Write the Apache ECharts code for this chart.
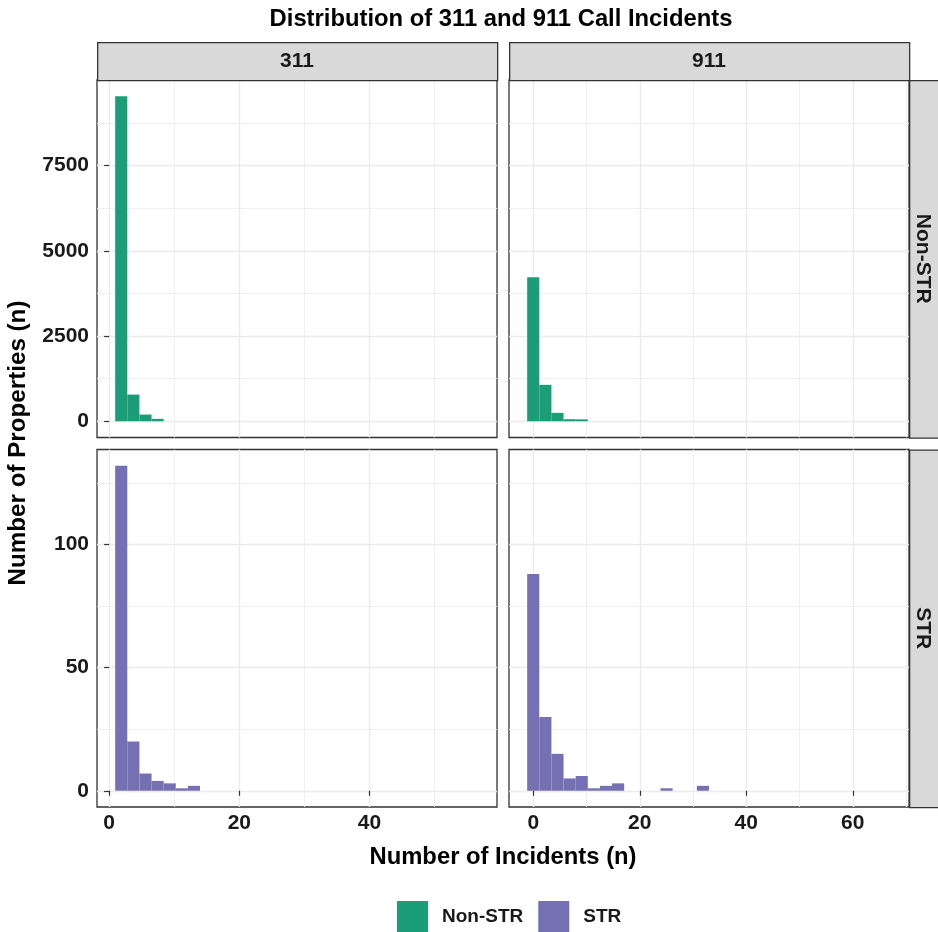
<!DOCTYPE html>
<html><head><meta charset="utf-8">
<script src="https://cdn.jsdelivr.net/npm/echarts@6/dist/echarts.min.js"></script>
<style>html,body{margin:0;padding:0;background:#fff}#c{width:938px;height:932px}</style>
</head><body><div id="c"></div>
<script>
const chartTitle = 'Distribution of 311 and 911 Call Incidents';
const xTitle = 'Number of Incidents (n)';
const yTitle = 'Number of Properties (n)';
const callTypes = ['311', '911'];
const groups = ['Non-STR', 'STR'];
const groupColors = ['#1B9E77', '#7570B3'];

// histogram bins (30 bins per column, first bin centred on the smallest value)
const binWidth311 = 1.862;
const firstBin311 = 1.86;
const lastBin311 = 55.86;
const binWidth911 = 2.276;
const firstBin911 = 0;
const lastBin911 = 66;

// counts per bin
const nonStr311 = [9531, 783, 196, 70];
const nonStr911 = [4224, 1068, 246, 60, 55];
const str311 = [132, 20, 7, 4, 3, 1, 2];
const str911 = [88, 30, 15, 5, 6, 1, 2, 3, 0, 0, 0, 1, 0, 0, 2];

// tick labels / grid lines
const xTicks311 = [0, 20, 40];
const xMinor311 = [10, 30, 50];
const xTicks911 = [0, 20, 40, 60];
const xMinor911 = [10, 30, 50, 70];
const yTicksNonStr = [0, 2500, 5000, 7500];
const yMinorNonStr = [1250, 3750, 6250, 8750];
const yTicksStr = [0, 50, 100];
const yMinorStr = [25, 75, 125];

const FONT = "'Liberation Sans', Arial, sans-serif";
const TXT = '#1a1a1a';
const LEFTS = [97, 509], PW = 400;
const TOPS = [80, 449.5], PH = 357.5;

const counts = [[nonStr311, nonStr911], [str311, str911]];
const binW = [binWidth311, binWidth911];
const binFirst = [firstBin311, firstBin911];
const binLast = [lastBin311, lastBin911];
const xTicks = [xTicks311, xTicks911], xMinor = [xMinor311, xMinor911];
const yTicks = [yTicksNonStr, yTicksStr], yMinor = [yMinorNonStr, yMinorStr];

function xExtent(col) {
  const lo = binFirst[col] - binW[col] / 2, hi = binLast[col] + binW[col] / 2;
  const pad = (hi - lo) * 0.05;
  return [lo - pad, hi + pad];
}
function yExtent(row) {
  const M = Math.max(...counts[row][0], ...counts[row][1]);
  return [-0.05 * M, 1.05 * M];
}
const plain = v => String(Math.round(v));

const grids = [], xAxes = [], yAxes = [], series = [], graphics = [];
for (let row = 0; row < 2; row++) {
  for (let col = 0; col < 2; col++) {
    const g = row * 2 + col;
    grids.push({left: LEFTS[col], top: TOPS[row], width: PW, height: PH, show: true,
      borderColor: '#333333', borderWidth: 1.3, backgroundColor: '#fff', containLabel: false});
    const [xmin, xmax] = xExtent(col);
    const [ymin, ymax] = yExtent(row);
    xAxes.push({gridIndex: g, type: 'value', min: xmin, max: xmax, position: 'bottom',
      axisLine: {show: false},
      axisTick: {show: row === 1, customValues: xTicks[col], length: 5, lineStyle: {color: '#333', width: 1.2}},
      axisLabel: {show: row === 1, customValues: xTicks[col], formatter: plain, margin: 6, color: TXT, fontSize: 21, fontWeight: 'bold', fontFamily: FONT},
      splitLine: {show: true, lineStyle: {color: '#EBEBEB', width: 1.4}}});
    xAxes.push({gridIndex: g, type: 'value', min: xmin, max: xmax, position: 'top',
      axisLine: {show: false}, axisTick: {show: false, customValues: xMinor[col]},
      axisLabel: {show: false, customValues: xMinor[col]},
      splitLine: {show: true, lineStyle: {color: '#EEEEEE', width: 0.9}}});
    yAxes.push({gridIndex: g, type: 'value', min: ymin, max: ymax, position: 'left',
      axisLine: {show: false},
      axisTick: {show: col === 0, customValues: yTicks[row], length: 5, lineStyle: {color: '#333', width: 1.2}},
      axisLabel: {show: col === 0, customValues: yTicks[row], formatter: plain, margin: 8, color: TXT, fontSize: 21, fontWeight: 'bold', fontFamily: FONT},
      splitLine: {show: true, lineStyle: {color: '#EBEBEB', width: 1.4}}});
    yAxes.push({gridIndex: g, type: 'value', min: ymin, max: ymax, position: 'right',
      axisLine: {show: false}, axisTick: {show: false, customValues: yMinor[row]},
      axisLabel: {show: false, customValues: yMinor[row]},
      splitLine: {show: true, lineStyle: {color: '#EEEEEE', width: 0.9}}});
    const w = binW[col];
    series.push({
      type: 'custom', name: groups[row], xAxisIndex: g * 2, yAxisIndex: g * 2,
      itemStyle: {color: groupColors[row]},
      data: counts[row][col].map((n, k) => [binFirst[col] + k * w, n]),
      renderItem: function (params, api) {
        const c = api.value(0), n = api.value(1);
        if (!n) return null;
        const p0 = api.coord([c - w / 2, n]);
        const p1 = api.coord([c + w / 2, 0]);
        return {type: 'rect', shape: {x: p0[0], y: p0[1], width: p1[0] - p0[0], height: p1[1] - p0[1]},
          style: {fill: groupColors[row]}};
      }
    });
  }
}

// column strips
for (let col = 0; col < 2; col++) {
  graphics.push({type: 'rect', left: LEFTS[col], top: 42, shape: {width: PW, height: 38},
    style: {fill: '#D9D9D9', stroke: '#333333', lineWidth: 1.3}, z: 10});
  graphics.push({type: 'text', x: LEFTS[col] + PW / 2, y: 61,
    style: {text: callTypes[col], fill: TXT, font: 'bold 21px ' + FONT, textAlign: 'center', textVerticalAlign: 'middle'}, z: 11});
}
// row strips
for (let row = 0; row < 2; row++) {
  graphics.push({type: 'rect', left: 909, top: TOPS[row], shape: {width: 40, height: PH},
    style: {fill: '#D9D9D9', stroke: '#333333', lineWidth: 1.3}, z: 10});
  graphics.push({type: 'text', x: 923, y: TOPS[row] + PH / 2, rotation: -Math.PI / 2,
    style: {text: groups[row], fill: TXT, font: 'bold 21px ' + FONT, textAlign: 'center', textVerticalAlign: 'middle'}, z: 11});
}
graphics.push({type: 'text', x: 501, y: 19,
  style: {text: chartTitle, fill: '#000', font: 'bold 23.8px ' + FONT, textAlign: 'center', textVerticalAlign: 'middle'}});
graphics.push({type: 'text', x: 503, y: 857,
  style: {text: xTitle, fill: '#000', font: 'bold 23.8px ' + FONT, textAlign: 'center', textVerticalAlign: 'middle'}});
graphics.push({type: 'text', x: 18, y: 443, rotation: Math.PI / 2,
  style: {text: yTitle, fill: '#000', font: 'bold 24.2px ' + FONT, textAlign: 'center', textVerticalAlign: 'middle'}});

const chart = echarts.init(document.getElementById('c'), null, {renderer: 'canvas'});
chart.setOption({
  animation: false,
  backgroundColor: '#fff',
  grid: grids, xAxis: xAxes, yAxis: yAxes, series: series,
  legend: {data: groups, left: 397, top: 901, padding: 0, orient: 'horizontal', icon: 'rect',
    itemWidth: 31, itemHeight: 31, itemGap: 15,
    textStyle: {color: TXT, fontSize: 19, fontWeight: 'bold', fontFamily: FONT, padding: [0, 0, 0, 9]}},
  graphic: graphics
});
</script></body></html>
